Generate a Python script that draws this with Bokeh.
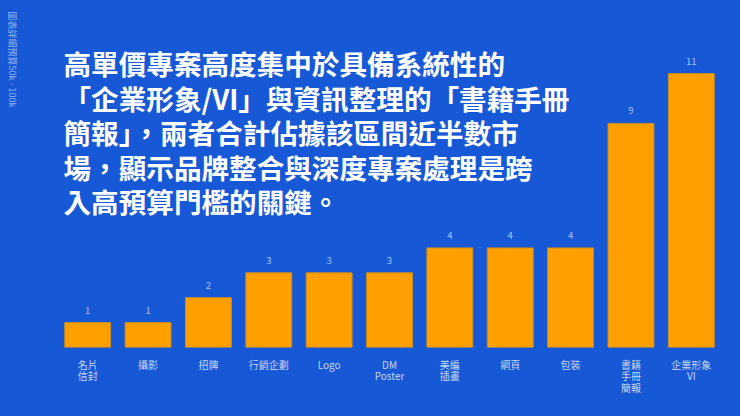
import math
from bokeh.plotting import figure
from bokeh.models import ColumnDataSource, Range1d, FixedTicker
from bokeh.core.properties import value
from bokeh.embed import file_html
from bokeh.resources import INLINE

categories = ["名片\n信封", "攝影", "招牌", "行銷企劃", "Logo", "DM\nPoster",
              "美編\n插畫", "網頁", "包裝", "書籍\n手冊\n簡報", "企業形象\nVI"]
counts = [1, 1, 2, 3, 3, 3, 4, 4, 4, 9, 11]
title_lines = [
    "高單價專案高度集中於具備系統性的",
    "「企業形象/VI」與資訊整理的「書籍手冊",
    "簡報」，兩者合計佔據該區間近半數市",
    "場，顯示品牌整合與深度專案處理是跨",
    "入高預算門檻的關鍵。",
]
side_note = "圖表詳細預算50k - 100k"

BG = "#1658d6"
ORANGE = "#ffa000"
FONT = "Noto Sans CJK TC"

W, H = 740, 416
MB = 69
FW = W
FH = H - MB
ppx_x = 60.36           # pixels per category slot
ppu = 24.9              # pixels per count unit
first_center_px = 87.2
x_start = -first_center_px / ppx_x
x_end = x_start + FW / ppx_x
y_end = FH / ppu

idx = list(range(len(categories)))

p = figure(frame_width=FW, frame_height=FH,
           x_range=Range1d(x_start, x_end), y_range=Range1d(0, y_end),
           output_backend="svg", toolbar_location=None,
           min_border_left=0, min_border_right=0, min_border_top=0, min_border_bottom=MB)
p.background_fill_color = BG
p.border_fill_color = BG
p.outline_line_color = None
p.grid.visible = False
p.yaxis.visible = False
p.xaxis.ticker = FixedTicker(ticks=idx)
p.xaxis.major_label_overrides = {i: c for i, c in zip(idx, categories)}
p.xaxis.axis_line_color = None
p.xaxis.major_tick_line_color = None
p.xaxis.minor_tick_line_color = None
p.xaxis.major_label_text_color = "#c8d8f6"
p.xaxis.major_label_text_font = FONT
p.xaxis.major_label_text_font_size = "10px"
p.xaxis.major_label_text_line_height = 0.78
p.xaxis.major_label_standoff = 3

src = ColumnDataSource(dict(x=idx, top=counts, lab=[str(c) for c in counts]))
p.vbar(x="x", top="top", width=0.76, source=src, fill_color=ORANGE,
       line_color="#c98c24", line_width=1)
p.text(x="x", y="top", text="lab", source=src, text_align="center", text_baseline="bottom",
       y_offset=-9, text_color="#a6c6ff", text_font=value(FONT), text_font_size="9.5px")

# helpers: page pixels -> data coordinates
def px_to_y(ypx):
    return (FH - ypx) / ppu
def px_to_x(xpx):
    return x_start + xpx / ppx_x

ys = [px_to_y(62.5 + i * 34.6) for i in range(len(title_lines))]
tsrc = ColumnDataSource(dict(x=[px_to_x(63)] * len(title_lines), y=ys, t=title_lines))
p.text(x="x", y="y", text="t", source=tsrc, text_align="left", text_baseline="middle",
       text_color="white", text_font=value(FONT), text_font_style="bold",
       text_font_size="27.6px")

nsrc = ColumnDataSource(dict(x=[px_to_x(12)], y=[px_to_y(11)], t=[side_note]))
p.text(x="x", y="y", text="t", source=nsrc, angle=-math.pi / 2,
       text_align="left", text_baseline="middle",
       text_color="#93b6f4", text_font=value(FONT), text_font_size="9px")

html = file_html(p, INLINE)
html = html.replace("<head>", "<head><style>html,body{margin:0;padding:0;overflow:hidden;background:%s;}</style>" % BG, 1)
open("out.html", "w").write(html)
